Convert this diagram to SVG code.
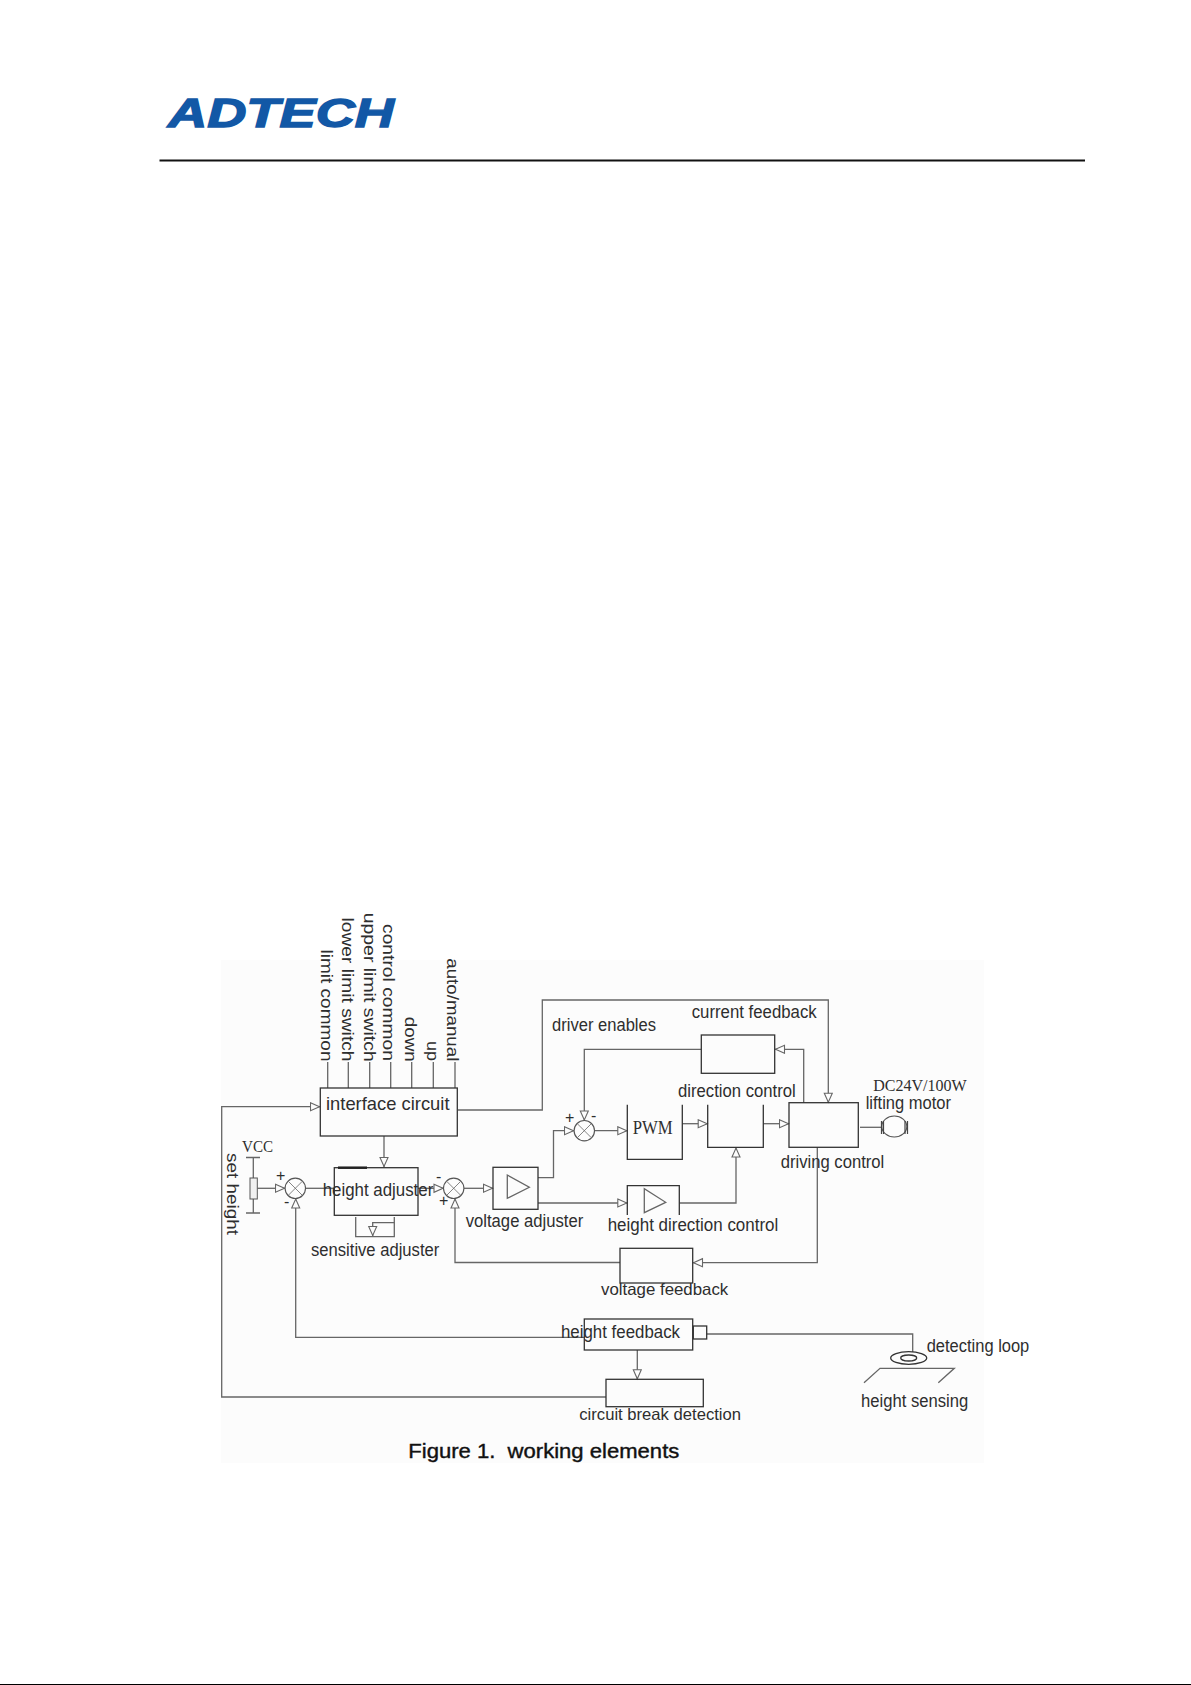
<svg xmlns="http://www.w3.org/2000/svg" width="1191" height="1685" viewBox="0 0 1191 1685">
<style>
text{font-family:"Liberation Sans",Arial,sans-serif;fill:#2e2e2e;font-size:17.5px}
.serif{font-family:"Liberation Serif","Times New Roman",serif}
.rot{font-size:17px}
.pm{font-size:16px}
.box{fill:none;stroke:#333;stroke-width:1.3}
.c{fill:none;stroke:#666;stroke-width:1.3}
.a{fill:none;stroke:#666;stroke-width:1.3;marker-end:url(#arr)}
.s{fill:#fdfdfd;stroke:#555;stroke-width:1.1}
</style>
<defs>
<marker id="arr" markerUnits="userSpaceOnUse" markerWidth="13" markerHeight="11" refX="10.5" refY="5" orient="auto">
<path d="M1,1 L10,5 L1,9 Z" fill="#fdfdfd" stroke="#666" stroke-width="1.1"/>
</marker>
<g id="sum"><circle r="10.2" class="s"/><path d="M-7,-7 L7,7 M-7,7 L7,-7" stroke="#666" stroke-width="0.8" fill="none"/></g>
</defs>
<rect width="1191" height="1685" fill="#fff"/>
<g id="header">
<text x="168" y="127" style="font-size:41px;font-weight:bold;font-style:italic;fill:#1258a6;stroke:#1258a6;stroke-width:1.4" textLength="226" lengthAdjust="spacingAndGlyphs">ADTECH</text>
<line x1="159.5" y1="160.5" x2="1085" y2="160.5" stroke="#111" stroke-width="2"/>
<rect x="0" y="1684" width="1191" height="1" fill="#000"/>
</g>
<rect x="221" y="960" width="763" height="503" fill="#fcfcfc"/>
<g id="connectors">
<path class="c" d="M327.7 1062V1088M348.3 1062V1088M369.7 1062V1088M390.7 1062V1088M411.7 1062V1088M433.3 1062V1088M455 1062V1088"/>
<path class="a" d="M606 1397H221.7V1106.7H320"/>
<path class="a" d="M384 1136V1167"/>
<path class="a" d="M458 1110H542.3V1000H828.3V1102.7"/>
<path class="c" d="M253.3 1157.5V1178M253.3 1199V1213M246 1157.5H260M246 1213H260"/>
<path class="a" d="M257.3 1188.3H285"/>
<path class="c" d="M305.5 1188.3H334"/>
<path class="a" d="M418 1188.3H443.5"/>
<path class="a" d="M464 1188.3H493"/>
<path class="a" d="M538 1177.7H553.5V1130.7H574"/>
<path class="a" d="M538 1203H627.3"/>
<path class="a" d="M594.5 1130.7H627.3"/>
<path class="a" d="M682.3 1123.7H707.7"/>
<path class="a" d="M763.3 1123.7H789"/>
<path class="a" d="M679.5 1203H736V1147.5"/>
<path class="a" d="M701.3 1049.3H584.3V1120.5"/>
<path class="a" d="M803.7 1102.7V1049.3H775"/>
<path class="a" d="M817.3 1147.3V1262.7H693"/>
<path class="a" d="M620 1262.5H455V1198.5"/>
<path class="a" d="M584.3 1337.3H295.7V1198.5"/>
<path class="a" d="M637.3 1350V1379.3"/>
<path class="c" d="M706.7 1334H912.7V1352"/>
<path class="c" d="M860 1127.3H881"/>
<path class="c" d="M864 1382.7L880 1368.3H954.3L938.3 1382.7"/>
</g>
<g id="interface-circuit"><rect class="box" x="320.3" y="1088" width="137" height="48"/><text x="326" y="1110" style="font-size:19px" textLength="123.5" lengthAdjust="spacingAndGlyphs">interface circuit</text></g>
<g id="signals">
<text class="rot" transform="translate(321,949.5) rotate(90)" textLength="112" lengthAdjust="spacingAndGlyphs">limit common</text>
<text class="rot" transform="translate(342.3,917.5) rotate(90)" textLength="144" lengthAdjust="spacingAndGlyphs">lower limit switch</text>
<text class="rot" transform="translate(363.5,912.7) rotate(90)" textLength="149" lengthAdjust="spacingAndGlyphs">upper limit switch</text>
<text class="rot" transform="translate(383.3,924) rotate(90)" textLength="137" lengthAdjust="spacingAndGlyphs">control common</text>
<text class="rot" transform="translate(405,1016.7) rotate(90)" textLength="45" lengthAdjust="spacingAndGlyphs">down</text>
<text class="rot" transform="translate(427,1041) rotate(90)" textLength="20" lengthAdjust="spacingAndGlyphs">up</text>
<text class="rot" transform="translate(447.3,958.3) rotate(90)" textLength="103" lengthAdjust="spacingAndGlyphs">auto/manual</text>
<text class="rot" transform="translate(226.7,1153) rotate(90)" textLength="82" lengthAdjust="spacingAndGlyphs">set height</text>
</g>
<g id="vcc"><rect x="250" y="1178" width="7.3" height="21" fill="#f0f0f0" stroke="#555"/><text class="serif" x="242" y="1152" style="font-size:17.5px" textLength="31" lengthAdjust="spacingAndGlyphs">VCC</text></g>
<g id="sum1"><use href="#sum" x="295.3" y="1188.3"/><text class="pm" x="276" y="1181">+</text><text class="pm" x="284" y="1207">-</text></g>
<g id="height-adjuster"><rect class="box" x="334.3" y="1167.7" width="83.7" height="47.6"/><path d="M338 1167.7H367" stroke="#222" stroke-width="2.5" fill="none"/><text x="322.7" y="1196" textLength="110.6" lengthAdjust="spacingAndGlyphs">height adjuster</text></g>
<g id="sensitive-adjuster">
<path class="c" d="M355.7 1217V1236.7H394.3V1217"/>
<path class="a" d="M394.3 1222.7H372.7V1236"/>
<text x="311" y="1256" textLength="128.3" lengthAdjust="spacingAndGlyphs">sensitive adjuster</text>
</g>
<g id="sum2"><use href="#sum" x="453.7" y="1188.3"/><text class="pm" x="436" y="1182">-</text><text class="pm" x="439" y="1206">+</text></g>
<g id="voltage-adjuster"><rect class="box" x="493" y="1167.3" width="45" height="42"/><path class="c" d="M507.3 1175V1198.3L529.3 1187.3Z"/><text x="465.7" y="1226.7" textLength="117.6" lengthAdjust="spacingAndGlyphs">voltage adjuster</text></g>
<g id="sum3"><use href="#sum" x="584.3" y="1130.7"/><text class="pm" x="565" y="1123">+</text><text class="pm" x="591" y="1121">-</text></g>
<g id="pwm"><path class="box" d="M627.3 1104.7V1159.3H682.3V1104.7"/><text class="serif" x="632.7" y="1134" style="font-size:18px" textLength="40" lengthAdjust="spacingAndGlyphs">PWM</text></g>
<g id="direction-control"><path class="box" d="M707.7 1104.7V1147.3H763.3V1104.7"/><text x="678" y="1097" textLength="117.7" lengthAdjust="spacingAndGlyphs">direction control</text></g>
<g id="driving-control"><rect class="box" x="789" y="1102.7" width="69.3" height="44.6"/><text x="780.7" y="1168.3" textLength="103.6" lengthAdjust="spacingAndGlyphs">driving control</text></g>
<g id="current-feedback"><rect class="box" x="701.3" y="1035" width="73.4" height="38.3"/><text x="691.7" y="1018.3" textLength="125" lengthAdjust="spacingAndGlyphs">current feedback</text></g>
<g id="driver-enables"><text x="552" y="1031" textLength="104" lengthAdjust="spacingAndGlyphs">driver enables</text></g>
<g id="height-direction-control"><path class="box" d="M627.3 1215V1185.7H679.3V1215"/><path class="c" d="M644.3 1188.7V1212.7L665.7 1202.3Z"/><text x="607.7" y="1230.7" textLength="170.6" lengthAdjust="spacingAndGlyphs">height direction control</text></g>
<g id="lifting-motor">
<ellipse cx="894.3" cy="1126.5" rx="12.5" ry="10.5" class="s"/>
<path d="M881.5 1121V1134M883.5 1121V1134M905 1121V1134M907.5 1121V1134" stroke="#444" stroke-width="1.2" fill="none"/>
<text class="serif" x="873.3" y="1090.7" style="font-size:16.5px" textLength="93.4" lengthAdjust="spacingAndGlyphs">DC24V/100W</text>
<text x="865.7" y="1109" textLength="85.3" lengthAdjust="spacingAndGlyphs">lifting motor</text>
</g>
<g id="voltage-feedback"><rect class="box" x="620" y="1248.3" width="72.7" height="34.7"/><text x="601" y="1295" style="font-size:16.5px" textLength="127.3" lengthAdjust="spacingAndGlyphs">voltage feedback</text></g>
<g id="height-feedback"><rect class="box" x="584.3" y="1319" width="108.4" height="31"/><rect class="box" x="693.3" y="1326" width="13.4" height="13"/><text x="561" y="1337.7" textLength="119" lengthAdjust="spacingAndGlyphs">height feedback</text></g>
<g id="circuit-break"><rect class="box" x="606" y="1379.3" width="97.3" height="27.4"/><text x="579.3" y="1420" style="font-size:16.5px" textLength="161.7" lengthAdjust="spacingAndGlyphs">circuit break detection</text></g>
<g id="detecting-loop"><ellipse cx="908.7" cy="1358" rx="18" ry="6.3" class="box"/><ellipse cx="908.7" cy="1358" rx="8" ry="3" class="box"/><text x="926.7" y="1351.7" textLength="102.6" lengthAdjust="spacingAndGlyphs">detecting loop</text></g>
<g id="height-sensing"><text x="861" y="1407.3" textLength="107.3" lengthAdjust="spacingAndGlyphs">height sensing</text></g>
<text x="408.3" y="1458.3" style="font-size:20.5px;fill:#111;stroke:#111;stroke-width:0.4" textLength="271" lengthAdjust="spacingAndGlyphs" xml:space="preserve">Figure 1.  working elements</text>
</svg>
